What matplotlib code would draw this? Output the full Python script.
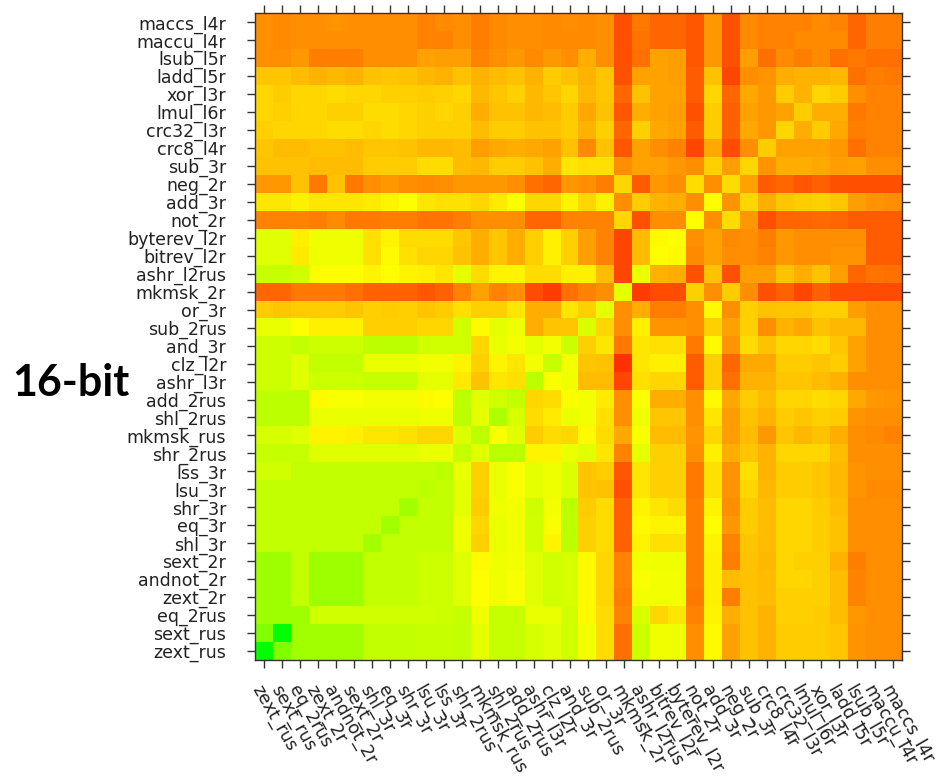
import matplotlib
matplotlib.use("Agg")
import matplotlib.pyplot as plt
import numpy as np
from matplotlib.colors import LinearSegmentedColormap

# column order (left -> right); rows are shown in reverse (top = last)
labels = ["zext_rus", "sext_rus", "eq_2rus", "zext_2r", "andnot_2r", "sext_2r",
          "shl_3r", "eq_3r", "shr_3r", "lsu_3r", "lss_3r", "shr_2rus",
          "mkmsk_rus", "shl_2rus", "add_2rus", "ashr_l3r", "clz_l2r", "and_3r",
          "sub_2rus", "or_3r", "mkmsk_2r", "ashr_l2rus", "bitrev_l2r", "byterev_l2r",
          "not_2r", "add_3r", "neg_2r", "sub_3r", "crc8_l4r", "crc32_l3r",
          "lmul_l6r", "xor_l3r", "ladd_l5r", "lsub_l5r", "maccu_l4r", "maccs_l4r"]

# level per cell (0 = green, 50 = yellow, 100 = red), rows listed top -> bottom
r_maccs_l4r = [72,73,72,72,71,72,72,72,72,74,73,72, 75,73,72,72,73,72,73,72,84,76,80,80, 83,70,84,73,74,74,74,73,74,80,75,75]
r_maccu_l4r = [72,73,72,72,72,72,72,72,72,74,74,72, 75,73,72,72,73,73,73,72,84,77,80,80, 83,70,84,73,74,74,73,73,73,80,75,75]
r_lsub_l5r = [72,72,70,75,75,75,72,72,72,68,69,69, 74,72,70,73,70,72,66,72,84,78,68,69, 83,70,84,69,78,73,75,73,78,76,78,78]
r_ladd_l5r = [61,61,63,65,64,65,62,61,62,64,65,62, 65,63,62,65,60,62,65,61,84,68,68,69, 82,62,86,72,71,66,65,65,64,78,75,76]
r_xor_l3r = [58,60,58,58,57,58,58,59,59,60,59,58, 64,61,59,64,61,58,64,61,80,62,68,68, 82,58,80,67,70,60,65,58,60,72,74,74]
r_lmul_l6r = [58,59,58,58,59,59,57,57,58,59,58,59, 66,62,62,64,63,60,67,62,83,66,68,69, 84,60,81,68,70,68,60,66,66,76,74,74]
r_crc32_l3r = [59,58,58,58,57,57,58,57,58,59,59,59, 63,60,60,62,62,60,65,59,80,59,67,68, 82,60,81,67,70,58,66,60,67,75,74,74]
r_crc8_l4r = [61,63,63,62,62,63,61,61,62,64,64,63, 69,67,66,67,68,62,73,62,83,68,72,74, 86,67,85,72,60,68,68,68,70,78,74,74]
r_sub_3r = [62,62,62,63,63,63,60,60,60,57,57,63, 64,60,60,62,66,55,56,56,72,68,68,70, 72,59,69,58,71,66,66,67,69,68,72,72]
r_neg_2r = [70,70,62,76,62,76,72,70,72,73,72,70, 70,70,72,78,80,70,72,75,58,82,70,72, 57,72,57,68,82,80,83,81,84,84,84,84]
r_add_3r = [55,55,53,55,55,55,54,52,50,55,56,56, 58,54,50,58,58,52,58,53,72,60,65,66, 72,50,71,58,66,61,60,59,61,69,71,72]
r_not_2r = [74,74,74,75,73,76,76,75,75,77,77,75, 72,72,72,80,80,74,74,74,58,84,72,72, 50,72,57,70,84,80,80,79,80,82,82,82]
r_byterev_l2r = [44,44,53,47,47,47,56,52,57,57,57,61, 66,61,66,59,53,59,69,74,86,63,51,50, 72,68,73,72,75,70,72,72,72,72,82,82]
r_bitrev_l2r = [44,44,54,47,47,47,56,51,56,58,58,62, 66,61,66,59,53,59,69,74,86,63,50,51, 73,68,72,72,74,70,72,72,71,71,82,82]
r_ashr_l2rus = [39,39,41,50,50,50,52,50,52,53,55,45, 57,52,52,57,57,53,53,63,86,46,65,66, 84,62,84,69,69,62,66,62,69,80,77,78]
r_mkmsk_2r = [80,80,76,76,76,78,81,81,81,83,81,74, 68,74,72,85,88,78,74,72,45,88,85,85, 59,72,60,72,84,81,86,81,85,85,85,85]
r_or_3r = [60,61,60,60,60,61,59,60,59,61,60,56, 59,59,55,66,66,55,59,45,72,66,75,75, 72,51,72,59,62,61,61,59,59,69,72,72]
r_sub_2rus = [46,46,50,53,53,53,59,59,59,58,58,41, 51,45,47,66,61,61,43,58,72,53,71,71, 72,59,68,59,72,65,67,62,64,64,72,72]
r_and_3r = [40,40,38,40,40,40,37,37,37,41,41,41, 58,46,48,45,48,40,59,55,76,55,56,56, 76,51,71,57,62,58,58,57,61,68,72,72]
r_clz_l2r = [40,40,44,38,38,38,46,46,46,48,48,52, 59,52,55,48,39,48,61,62,90,55,53,53, 82,59,80,67,67,60,60,61,60,68,72,72]
r_ashr_l3r = [40,40,44,40,40,40,39,39,39,45,45,54, 62,55,56,37,49,47,63,63,86,56,58,58, 82,59,78,65,65,61,61,63,65,72,72,72]
r_add_2rus = [37,37,37,51,49,49,48,48,48,51,50,37, 44,41,38,58,57,49,48,54,72,49,66,66, 72,51,67,60,63,58,58,57,58,67,70,71]
r_shl_2rus = [37,37,37,46,46,46,46,46,46,47,47,37, 45,34,42,57,54,46,48,56,72,47,61,61, 72,55,69,62,65,60,61,59,60,71,72,72]
r_mkmsk_rus = [42,42,44,52,52,53,55,55,56,58,58,43, 37,49,44,60,57,58,51,57,67,49,63,63, 71,58,69,63,70,61,64,62,66,72,73,74]
r_shr_2rus = [39,39,39,44,44,44,44,44,44,46,46,39, 44,37,37,52,52,46,44,55,74,45,59,59, 72,53,66,61,65,58,58,58,63,72,72,72]
r_lss_3r = [41,41,38,38,38,38,38,38,38,38,37,46, 59,46,49,45,47,43,61,60,83,55,59,59, 76,56,71,56,65,60,60,61,64,71,72,72]
r_lsu_3r = [38,38,38,38,38,38,38,38,38,37,38,45, 59,46,49,45,47,43,61,62,84,55,59,59, 76,56,71,58,64,60,60,61,64,71,73,73]
r_shr_3r = [38,38,38,38,38,38,38,38,32,38,38,45, 60,47,48,40,48,37,60,57,81,52,55,57, 75,52,72,60,63,58,58,60,63,72,72,72]
r_eq_3r = [38,38,38,38,38,38,38,32,38,38,38,47, 58,46,48,41,49,37,59,57,81,51,52,52, 75,50,70,60,63,58,58,60,62,72,72,72]
r_shl_3r = [38,38,38,38,38,38,32,38,38,38,38,47, 59,46,48,41,52,37,59,57,81,52,56,56, 75,52,74,61,63,58,58,60,62,72,72,72]
r_sext_2r = [31,31,38,31,31,31,38,38,38,40,40,44, 51,47,48,44,41,42,51,58,74,48,47,47, 75,53,75,62,64,58,59,59,65,75,72,72]
r_andnot_2r = [31,31,38,31,31,31,38,38,38,40,40,44, 50,47,49,44,41,42,51,58,74,49,48,48, 75,53,63,62,63,58,58,59,63,74,72,72]
r_zext_2r = [31,31,38,31,31,31,38,38,38,40,40,44, 50,47,49,44,41,42,51,58,75,48,48,48, 76,53,75,62,63,59,59,59,63,74,72,72]
r_eq_2rus = [31,31,31,41,41,41,41,41,41,41,40,39, 47,39,39,46,46,41,51,57,74,42,58,55, 74,52,66,62,65,59,59,60,63,70,72,72]
r_sext_rus = [25,0,32,32,32,32,38,38,38,39,39,38, 45,39,39,42,44,41,48,57,78,40,47,47, 72,51,68,62,65,60,60,60,61,71,72,72]
r_zext_rus = [0,25,32,32,32,32,38,38,38,39,39,38, 45,39,39,42,44,41,48,57,78,40,47,47, 72,51,68,62,65,60,60,60,61,71,72,72]

rows_top_down = [r_maccs_l4r, r_maccu_l4r, r_lsub_l5r, r_ladd_l5r, r_xor_l3r, r_lmul_l6r,
                 r_crc32_l3r, r_crc8_l4r, r_sub_3r, r_neg_2r, r_add_3r, r_not_2r,
                 r_byterev_l2r, r_bitrev_l2r, r_ashr_l2rus, r_mkmsk_2r, r_or_3r, r_sub_2rus,
                 r_and_3r, r_clz_l2r, r_ashr_l3r, r_add_2rus, r_shl_2rus, r_mkmsk_rus,
                 r_shr_2rus, r_lss_3r, r_lsu_3r, r_shr_3r, r_eq_3r, r_shl_3r,
                 r_sext_2r, r_andnot_2r, r_zext_2r, r_eq_2rus, r_sext_rus, r_zext_rus]

data = np.array(rows_top_down, dtype=float)
n = len(labels)
row_labels = labels[::-1]

cmap = LinearSegmentedColormap.from_list("gyr", ["#00ff00", "#ffff00", "#ff0000"])

W, H = 941, 776
fig = plt.figure(figsize=(W / 100, H / 100), dpi=100)
ax = fig.add_axes([255.3 / W, 1 - 660 / H, 646.7 / W, 646.7 / H])
ax.imshow(data, cmap=cmap, vmin=0, vmax=100, aspect="auto", interpolation="nearest",
          extent=(-0.5, n - 0.5, n - 0.5, -0.5))
ax.set_xlim(-0.5, n - 0.5)
ax.set_ylim(n - 0.5, -0.5)

ax.set_xticks(range(n))
ax.set_xticklabels(labels, rotation=-60, ha="left", va="top", rotation_mode="anchor",
                   fontsize=12.5, color="#222222")
ax.set_yticks(range(n))
ax.set_yticklabels(row_labels, fontsize=12.5, color="#222222")
ax.tick_params(axis="both", direction="out", length=6, width=1.0, color="#333333",
               top=True, right=True, labeltop=False, labelright=False)
ax.tick_params(axis="y", pad=15)
ax.tick_params(axis="x", pad=10)
for s in ax.spines.values():
    s.set_linewidth(1.0)
    s.set_color("#333333")

fig.text(12 / W, 1 - 383 / H, "16-bit", fontsize=31, fontweight="bold",
         family=["Lato", "DejaVu Sans"], ha="left", va="center", color="black")

fig.savefig("out.png", dpi=100)
